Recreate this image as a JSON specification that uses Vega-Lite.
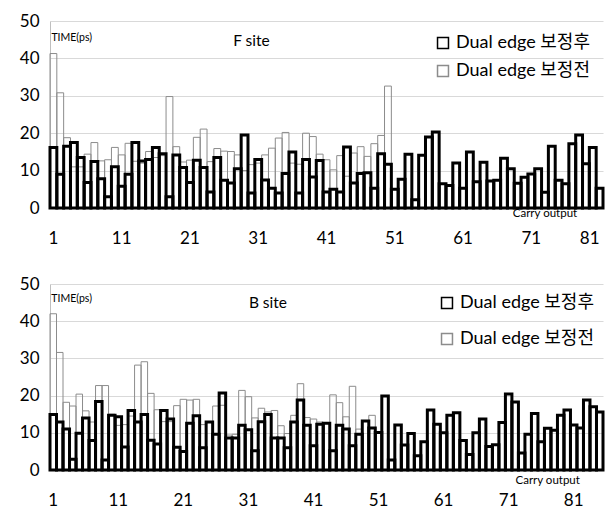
{
  "$schema": "https://vega.github.io/schema/vega-lite/v6.json",
  "background": "white",
  "padding": {"left": 19, "top": 12, "right": 0, "bottom": 0},
  "config": {"font": "Lato", "view": {"stroke": null},
    "axisY": {"tickCount": 6, "title": null, "ticks": false, "grid": true, "gridColor": "#d9d9d9", "domainColor": "#bfbfbf", "labelPadding": 11, "labelFontSize": 17, "labelColor": "#000000", "labelOverlap": false},
    "axisX": {"title": null, "ticks": false, "domainColor": "#bfbfbf", "labelPadding": 22, "labelFontSize": 17, "labelColor": "#000000", "labelOverlap": false, "labelAngle": 0, "grid": false}
  },
  "spacing": 76,
  "bounds": "flush",
  "resolve": {"scale": {"x": "independent", "y": "independent", "stroke": "independent"}, "legend": {"stroke": "independent"}},
  "datasets": {
    "F": [
      {"n":1,"a":16.2,"b":41.3},{"n":2,"a":9,"b":30.8},{"n":3,"a":16.5,"b":18.8},{"n":4,"a":17.5,"b":11},{"n":5,"a":13.5,"b":11},
      {"n":6,"a":6.8,"b":14.4},{"n":7,"a":12.4,"b":17.5},{"n":8,"a":7.8,"b":12.6},{"n":9,"a":3,"b":12.9},{"n":10,"a":11,"b":16.2},
      {"n":11,"a":5.8,"b":14.2},{"n":12,"a":9,"b":17.3},{"n":13,"a":17.5,"b":12.5},{"n":14,"a":12.6,"b":12},{"n":15,"a":13,"b":15.1},
      {"n":16,"a":16.2,"b":13.5},{"n":17,"a":14.5,"b":14},{"n":18,"a":3,"b":29.8},{"n":19,"a":14.2,"b":16.4},{"n":20,"a":10.8,"b":12.3},
      {"n":21,"a":6.8,"b":12.8},{"n":22,"a":12.8,"b":18.9},{"n":23,"a":10.8,"b":21.1},{"n":24,"a":4.3,"b":12.4},{"n":25,"a":13.5,"b":15.9},
      {"n":26,"a":7.4,"b":15.2},{"n":27,"a":6.7,"b":15.1},{"n":28,"a":10.5,"b":14.2},{"n":29,"a":19.5,"b":10},{"n":30,"a":4,"b":11.6},
      {"n":31,"a":13,"b":12},{"n":32,"a":7.5,"b":14.2},{"n":33,"a":5.3,"b":16},{"n":34,"a":4,"b":18.7},{"n":35,"a":9.2,"b":20.2},
      {"n":36,"a":15,"b":12},{"n":37,"a":4,"b":11.7},{"n":38,"a":13,"b":20},{"n":39,"a":8.3,"b":19.1},{"n":40,"a":12.7,"b":14.4},
      {"n":41,"a":4.3,"b":12.9},{"n":42,"a":5,"b":10.2},{"n":43,"a":4.3,"b":14},{"n":44,"a":16.3,"b":8.5},{"n":45,"a":6.7,"b":14.7},
      {"n":46,"a":9.2,"b":16.4},{"n":47,"a":9.4,"b":13.8},{"n":48,"a":5.3,"b":17.2},{"n":49,"a":14.5,"b":19.4},{"n":50,"a":11.7,"b":32.6},
      {"n":51,"a":5,"b":5},{"n":52,"a":7.7,"b":7.7},{"n":53,"a":14.4,"b":14.4},{"n":54,"a":2.2,"b":2.2},{"n":55,"a":14.1,"b":14.1},
      {"n":56,"a":19,"b":19},{"n":57,"a":20.3,"b":20.3},{"n":58,"a":6.5,"b":6.5},{"n":59,"a":6,"b":6},{"n":60,"a":12,"b":12},
      {"n":61,"a":5.3,"b":5.3},{"n":62,"a":15,"b":15},{"n":63,"a":7,"b":7},{"n":64,"a":12.2,"b":12.2},{"n":65,"a":7.2,"b":7.2},
      {"n":66,"a":7.4,"b":7.4},{"n":67,"a":13.3,"b":13.3},{"n":68,"a":10.5,"b":10.5},{"n":69,"a":6.6,"b":6.6},{"n":70,"a":8.2,"b":8.2},
      {"n":71,"a":9.1,"b":9.1},{"n":72,"a":10.5,"b":10.5},{"n":73,"a":4.2,"b":4.2},{"n":74,"a":16.5,"b":16.5},{"n":75,"a":7.4,"b":7.4},
      {"n":76,"a":6.5,"b":6.5},{"n":77,"a":17.2,"b":17.2},{"n":78,"a":19.5,"b":19.5},{"n":79,"a":11.8,"b":11.8},{"n":80,"a":16.2,"b":16.2},
      {"n":81,"a":5.3,"b":5.3}
    ],
    "B": [
      {"n":1,"a":14.9,"b":42},{"n":2,"a":12.9,"b":31.6},{"n":3,"a":11,"b":18.2},{"n":4,"a":2.9,"b":17.2},{"n":5,"a":9.9,"b":20.4},
      {"n":6,"a":14,"b":15.9},{"n":7,"a":7.9,"b":12.9},{"n":8,"a":18.4,"b":22.7},{"n":9,"a":2.7,"b":22.7},{"n":10,"a":14.7,"b":15},
      {"n":11,"a":14.3,"b":12},{"n":12,"a":6.2,"b":12.2},{"n":13,"a":16,"b":14.5},{"n":14,"a":12.9,"b":28.2},{"n":15,"a":14.9,"b":29.1},
      {"n":16,"a":8,"b":20.6},{"n":17,"a":7,"b":16.2},{"n":18,"a":16,"b":13},{"n":19,"a":13.7,"b":13},{"n":20,"a":6.1,"b":17.3},
      {"n":21,"a":5,"b":19},{"n":22,"a":12.6,"b":18.8},{"n":23,"a":14.6,"b":19},{"n":24,"a":6,"b":12.2},{"n":25,"a":12.9,"b":13},
      {"n":26,"a":9.6,"b":17.2},{"n":27,"a":20.7,"b":17.4},{"n":28,"a":8.6,"b":9.4},{"n":29,"a":8.6,"b":9.6},{"n":30,"a":12,"b":21.4},
      {"n":31,"a":10.8,"b":19.7},{"n":32,"a":5.2,"b":14},{"n":33,"a":13,"b":16.6},{"n":34,"a":14.9,"b":15.6},{"n":35,"a":8.6,"b":16},
      {"n":36,"a":8.6,"b":11.9},{"n":37,"a":6,"b":9.8},{"n":38,"a":12.9,"b":14.7},{"n":39,"a":18.8,"b":23.2},{"n":40,"a":12,"b":14.1},
      {"n":41,"a":6.5,"b":13.7},{"n":42,"a":12.3,"b":12.9},{"n":43,"a":12.6,"b":12.6},{"n":44,"a":5.2,"b":20.2},{"n":45,"a":12,"b":18.1},
      {"n":46,"a":11,"b":14.3},{"n":47,"a":6.5,"b":22.5},{"n":48,"a":9.6,"b":11},{"n":49,"a":13.2,"b":13.2},{"n":50,"a":11.3,"b":14.7},
      {"n":51,"a":10.1,"b":10.1},{"n":52,"a":19.9,"b":19.9},{"n":53,"a":2.7,"b":2.7},{"n":54,"a":12.1,"b":12.1},{"n":55,"a":6.7,"b":6.7},
      {"n":56,"a":9.8,"b":9.8},{"n":57,"a":3.8,"b":3.8},{"n":58,"a":7.6,"b":7.6},{"n":59,"a":16.1,"b":16.1},{"n":60,"a":12.3,"b":12.3},
      {"n":61,"a":10,"b":10},{"n":62,"a":14.7,"b":14.7},{"n":63,"a":15.4,"b":15.4},{"n":64,"a":7.9,"b":7.9},{"n":65,"a":4.2,"b":4.2},
      {"n":66,"a":10,"b":10},{"n":67,"a":13.7,"b":13.7},{"n":68,"a":6.3,"b":6.3},{"n":69,"a":6.8,"b":6.8},{"n":70,"a":12.8,"b":12.8},
      {"n":71,"a":20.4,"b":20.4},{"n":72,"a":18.3,"b":18.3},{"n":73,"a":4.6,"b":4.6},{"n":74,"a":9.6,"b":9.6},{"n":75,"a":15.2,"b":15.2},
      {"n":76,"a":7.6,"b":7.6},{"n":77,"a":11.2,"b":11.2},{"n":78,"a":10.7,"b":10.7},{"n":79,"a":14.7,"b":14.7},{"n":80,"a":16.1,"b":16.1},
      {"n":81,"a":12.1,"b":12.1},{"n":82,"a":11.3,"b":11.3},{"n":83,"a":18.8,"b":18.8},{"n":84,"a":17,"b":17},{"n":85,"a":15.6,"b":15.6}
    ]
  },
  "vconcat": [
    {
      "width": 553,
      "height": 187,
      "data": {"name": "F"},
      "layer": [
        {
          "mark": {"type": "bar", "filled": false, "strokeWidth": 1},
          "encoding": {
            "x": {"field": "n", "type": "ordinal", "scale": {"paddingInner": 0, "paddingOuter": 0},
                  "axis": {"values": [1,11,21,31,41,51,61,71,81], "labelAlign": {"condition": {"test": "datum.value === 81", "value": "right"}, "value": "center"}}},
            "y": {"field": "b", "type": "quantitative", "scale": {"domain": [0, 50], "nice": false},
                  "axis": {"values": [0,10,20,30,40,50]}},
            "stroke": {"datum": "Dual edge 보정전", "scale": {"domain": ["Dual edge 보정후", "Dual edge 보정전"], "range": ["#000000", "#8c8c8c"]},
                       "legend": {"orient": "none", "legendX": 384, "legendY": 13, "title": null, "symbolType": "square", "symbolSize": 120, "labelFontSize": 18, "labelFont": "Lato, 'Noto Sans CJK KR'", "labelColor": "#000000", "rowPadding": 10, "labelOffset": 4,
                                  "encode": {"symbols": {"update": {"strokeWidth": {"signal": "datum.value === 'Dual edge 보정후' ? 3 : 1"}, "fill": {"value": "white"}}}}}}
          }
        },
        {
          "mark": {"type": "bar", "filled": false, "strokeWidth": 3},
          "encoding": {
            "x": {"field": "n", "type": "ordinal"},
            "y": {"field": "a", "type": "quantitative", "axis": {"values": [0,10,20,30,40,50]}},
            "stroke": {"datum": "Dual edge 보정후"}
          }
        },
        {
          "data": {"values": [{}]},
          "mark": {"type": "text", "fontSize": 10.5, "align": "left", "baseline": "middle", "dx": -2, "color": "#000000"},
          "encoding": {"x": {"datum": 1, "type": "ordinal"}, "y": {"datum": 45.5, "type": "quantitative"}, "text": {"value": "TIME(ps)"}}
        },
        {
          "data": {"values": [{}]},
          "mark": {"type": "text", "fontSize": 15.5, "align": "center", "baseline": "middle", "color": "#000000"},
          "encoding": {"x": {"datum": 30, "type": "ordinal"}, "y": {"datum": 44.7, "type": "quantitative"}, "text": {"value": "F site"}}
        },
        {
          "data": {"values": [{}]},
          "mark": {"type": "text", "fontSize": 11.5, "align": "center", "baseline": "middle", "color": "#000000"},
          "encoding": {"x": {"datum": 73, "type": "ordinal"}, "y": {"datum": -1.7, "type": "quantitative"}, "text": {"value": "Carry output"}}
        }
      ]
    },
    {
      "width": 553,
      "height": 186,
      "data": {"name": "B"},
      "layer": [
        {
          "mark": {"type": "bar", "filled": false, "strokeWidth": 1},
          "encoding": {
            "x": {"field": "n", "type": "ordinal", "scale": {"paddingInner": 0, "paddingOuter": 0},
                  "axis": {"values": [1,11,21,31,41,51,61,71,81]}},
            "y": {"field": "b", "type": "quantitative", "scale": {"domain": [0, 50], "nice": false},
                  "axis": {"values": [0,10,20,30,40,50]}},
            "stroke": {"datum": "Dual edge 보정전", "scale": {"domain": ["Dual edge 보정후", "Dual edge 보정전"], "range": ["#000000", "#8c8c8c"]},
                       "legend": {"orient": "none", "legendX": 388, "legendY": 10, "title": null, "symbolType": "square", "symbolSize": 120, "labelFontSize": 18, "labelFont": "Lato, 'Noto Sans CJK KR'", "labelColor": "#000000", "rowPadding": 18, "labelOffset": 4,
                                  "encode": {"symbols": {"update": {"strokeWidth": {"signal": "datum.value === 'Dual edge 보정후' ? 3 : 1"}, "fill": {"value": "white"}}}}}}
          }
        },
        {
          "mark": {"type": "bar", "filled": false, "strokeWidth": 3},
          "encoding": {
            "x": {"field": "n", "type": "ordinal"},
            "y": {"field": "a", "type": "quantitative", "axis": {"values": [0,10,20,30,40,50]}},
            "stroke": {"datum": "Dual edge 보정후"}
          }
        },
        {
          "data": {"values": [{}]},
          "mark": {"type": "text", "fontSize": 10.5, "align": "left", "baseline": "middle", "dx": -2, "color": "#000000"},
          "encoding": {"x": {"datum": 1, "type": "ordinal"}, "y": {"datum": 46, "type": "quantitative"}, "text": {"value": "TIME(ps)"}}
        },
        {
          "data": {"values": [{}]},
          "mark": {"type": "text", "fontSize": 15.5, "align": "center", "baseline": "middle", "color": "#000000"},
          "encoding": {"x": {"datum": 34, "type": "ordinal"}, "y": {"datum": 45, "type": "quantitative"}, "text": {"value": "B site"}}
        },
        {
          "data": {"values": [{}]},
          "mark": {"type": "text", "fontSize": 11.5, "align": "center", "baseline": "middle", "color": "#000000"},
          "encoding": {"x": {"datum": 77, "type": "ordinal"}, "y": {"datum": -2.9, "type": "quantitative"}, "text": {"value": "Carry output"}}
        }
      ]
    }
  ]
}
